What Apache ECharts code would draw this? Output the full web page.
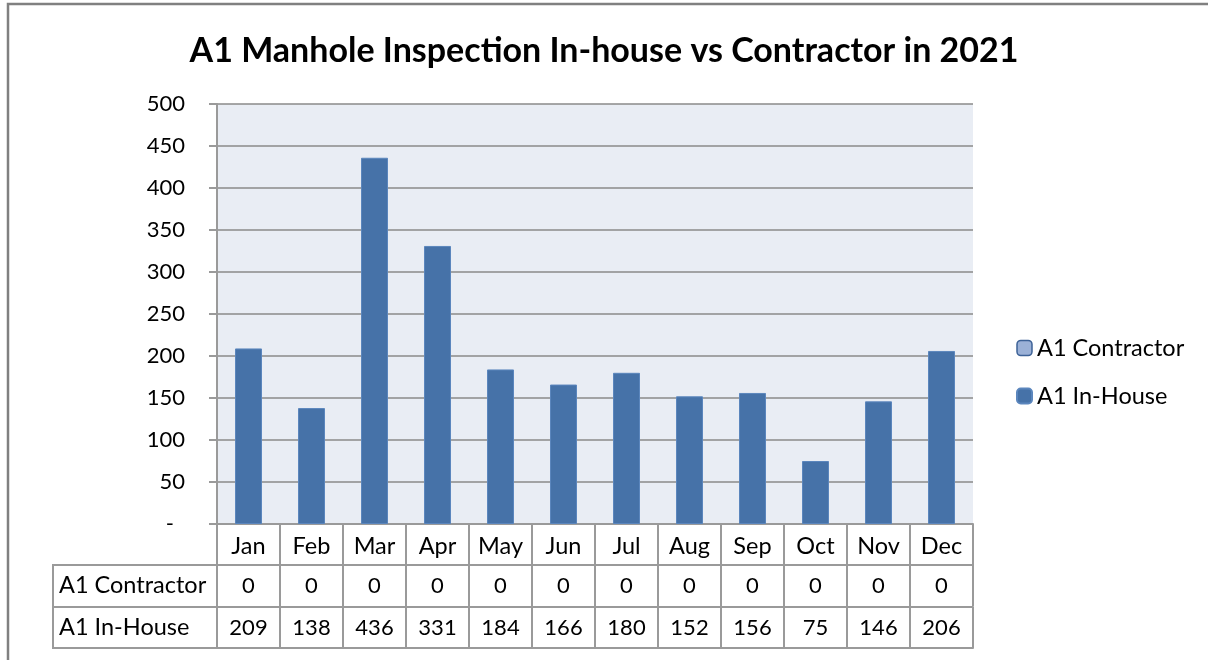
<!DOCTYPE html>
<html>
<head>
<meta charset="utf-8">
<script src="https://cdn.jsdelivr.net/npm/echarts@6/dist/echarts.min.js"></script>
<style>
  html, body { margin: 0; padding: 0; background: #fff; }
  #chart { width: 1208px; height: 660px; }
</style>
</head>
<body>
<div id="chart"></div>
<script>
// 数据
const months = ["Jan", "Feb", "Mar", "Apr", "May", "Jun", "Jul", "Aug", "Sep", "Oct", "Nov", "Dec"]
const contractor = [0, 0, 0, 0, 0, 0, 0, 0, 0, 0, 0, 0]
const inHouse = [209, 138, 436, 331, 184, 166, 180, 152, 156, 75, 146, 206]
const seriesNames = ["A1 Contractor", "A1 In-House"]

const font = "Lato"
const lineColor = "#9a9a9a"
const fs = 22 // 数字
const fw = 23.5 // 文字

// 表格行：每一行是一个带偏移的类目轴
function tableAxis(data, offset, showLabel, size) {
  return {
    type: "category",
    data: data,
    position: "bottom",
    offset: offset,
    axisLine: { show: true, lineStyle: { color: lineColor, width: 2 } },
    axisTick: { show: showLabel, interval: 0, length: 41, lineStyle: { color: lineColor, width: 2 } },
    axisLabel: { show: showLabel, interval: 0, margin: 10, color: "#000", fontFamily: font, fontSize: size },
    splitLine: { show: false }
  }
}

const option = {
  animation: false,
  title: {
    text: "A1 Manhole Inspection In-house vs Contractor in 2021",
    left: "center",
    top: 29,
    textStyle: { fontFamily: font, fontSize: 34, fontWeight: "bold", color: "#000" }
  },
  legend: {
    orient: "vertical",
    left: 1011,
    top: 331,
    itemWidth: 15,
    itemHeight: 15,
    itemGap: 24,
    textStyle: { fontFamily: font, fontSize: fw, color: "#000" },
    data: [
      { name: seriesNames[0], itemStyle: { color: "#9bb1d7", borderColor: "#3d6297", borderWidth: 1.5 } },
      { name: seriesNames[1], itemStyle: { color: "#4672a8" } }
    ]
  },
  grid: {
    left: 217,
    top: 104,
    width: 756,
    height: 420,
    show: true,
    backgroundColor: "#e9edf4",
    borderWidth: 0
  },
  xAxis: [
    tableAxis(months, 0, true, fw),
    tableAxis(contractor, 41, true, fs),
    tableAxis(inHouse, 83, true, fs),
    tableAxis(months.map(() => ""), 124, false, fs)
  ],
  yAxis: {
    type: "value",
    min: 0,
    max: 500,
    interval: 50,
    axisLine: { show: true, lineStyle: { color: lineColor, width: 2 } },
    axisTick: { show: true, length: 8, lineStyle: { color: lineColor, width: 2 } },
    axisLabel: {
      margin: 32,
      color: "#000",
      fontFamily: font,
      fontSize: fs,
      formatter: function (v) {
        return v === 0 ? "{d|-}" : String(v)
      },
      rich: { d: { fontFamily: font, fontSize: fs, color: "#000", padding: [0, 11, 0, 0] } }
    },
    splitLine: { show: true, lineStyle: { color: "#8a8a8a", width: 1.5 } }
  },
  series: [
    {
      name: seriesNames[1],
      type: "bar",
      stack: "total",
      barWidth: 27,
      xAxisIndex: 0,
      data: inHouse,
      itemStyle: { color: "#4672a8", borderColor: "#5b86bd", borderWidth: 1 }
    },
    {
      name: seriesNames[0],
      type: "bar",
      stack: "total",
      barWidth: 27,
      xAxisIndex: 0,
      data: contractor,
      itemStyle: { color: "#9bb1d7", borderWidth: 0 }
    }
  ],
  graphic: [
    {
      type: "rect",
      silent: true,
      shape: { x: 8, y: 4, width: 1400, height: 900 },
      style: { fill: "none", stroke: "#808080", lineWidth: 2.5 }
    },
    {
      type: "rect",
      silent: true,
      shape: { x: 53, y: 565, width: 164, height: 83 },
      style: { fill: "none", stroke: lineColor, lineWidth: 2 }
    },
    {
      type: "line",
      silent: true,
      shape: { x1: 53, y1: 607, x2: 217, y2: 607 },
      style: { stroke: lineColor, lineWidth: 2 }
    },
    {
      type: "text",
      silent: true,
      left: 59,
      top: 573,
      style: { text: seriesNames[0], font: fw + "px " + font, fill: "#000" }
    },
    {
      type: "text",
      silent: true,
      left: 59,
      top: 615,
      style: { text: seriesNames[1], font: fw + "px " + font, fill: "#000" }
    }
  ]
}

const dom = document.getElementById("chart")
const myChart = echarts.init(dom)
myChart.setOption(option)
window.addEventListener("resize", function () {
  myChart.resize()
})
</script>
</body>
</html>
